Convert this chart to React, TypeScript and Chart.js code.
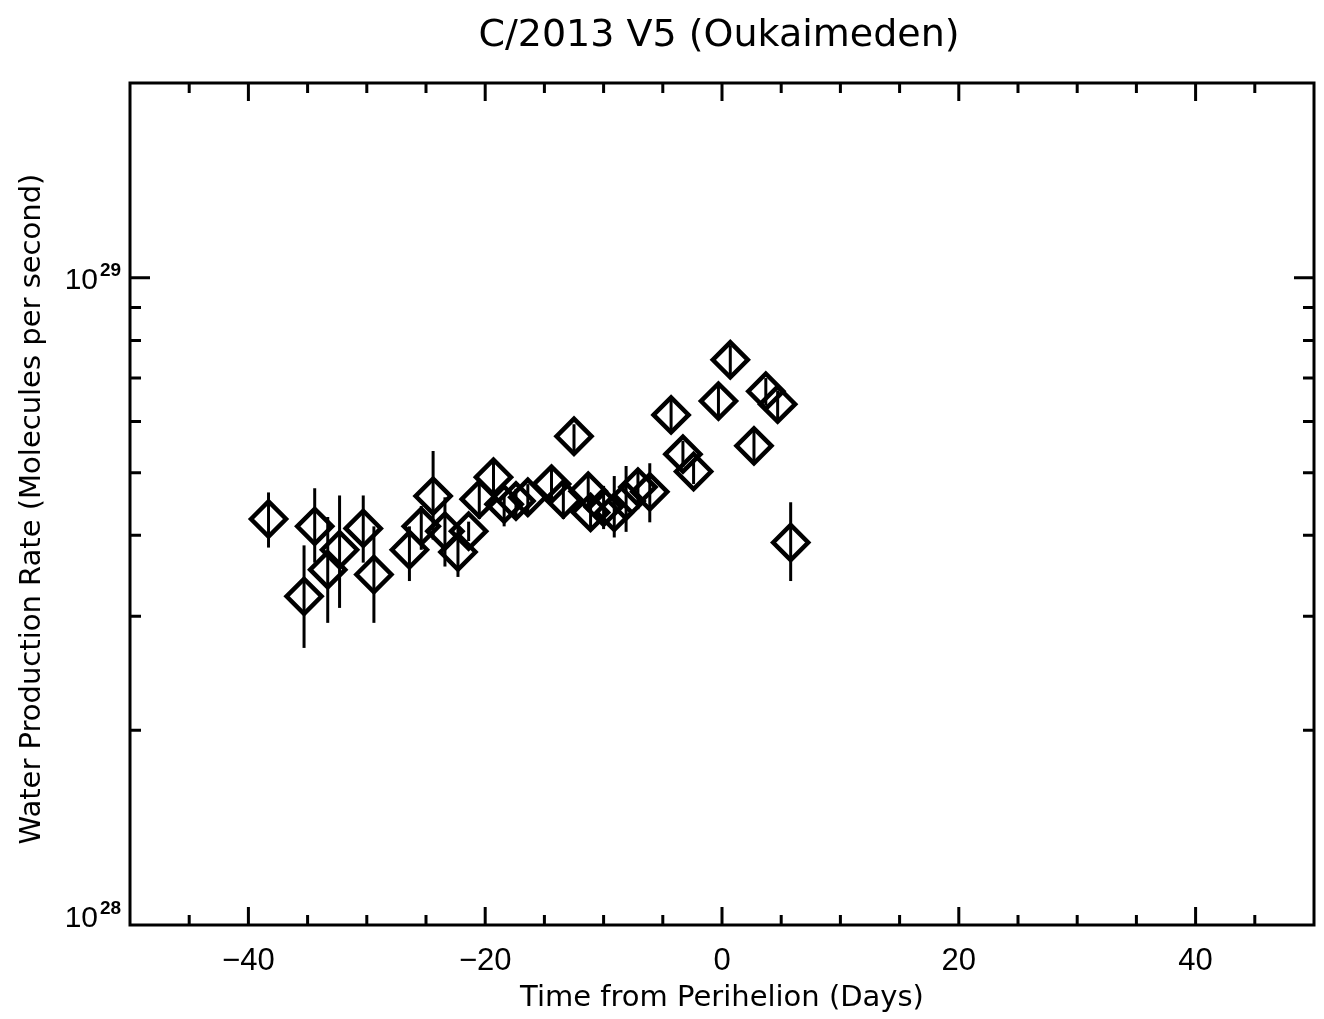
import React, { useEffect, useRef } from 'react';
import { Chart, registerables } from 'chart.js';

Chart.register(...registerables);

// ---- data (days from perihelion, production rate in units of 1e28 molecules/s) ----
const days = [-38.3, -35.3, -34.4, -33.3, -32.3, -30.3, -29.4, -26.4, -25.4, -24.4, -23.4, -22.3, -21.4, -20.5, -19.3, -18.4, -17.4, -16.4, -14.4, -13.4, -12.5, -11.3, -11.1, -10.0, -9.1, -8.1, -7.1, -6.1, -4.3, -3.3, -2.4, -0.3, 0.7, 2.7, 3.7, 4.7, 5.8];
const rate = [4.24, 3.22, 4.13, 3.54, 3.80, 4.10, 3.48, 3.80, 4.13, 4.60, 4.06, 3.77, 4.06, 4.55, 4.92, 4.47, 4.52, 4.58, 4.80, 4.55, 5.69, 4.68, 4.34, 4.42, 4.34, 4.52, 4.75, 4.67, 6.14, 5.34, 5.02, 6.45, 7.47, 5.50, 6.68, 6.38, 3.90];
const rateHigh = [4.66, 3.86, 4.73, 4.27, 4.61, 4.61, 4.13, 4.13, 4.44, 5.40, 4.58, 4.13, 4.20, 4.89, 5.21, 4.61, 4.72, 4.80, 5.06, 4.80, 5.94, 4.97, 4.62, 4.77, 4.94, 5.12, 5.06, 5.17, 6.48, 5.60, 5.25, 6.80, 7.85, 5.80, 7.00, 6.70, 4.50];
const rateLow = [3.83, 2.68, 3.63, 2.93, 3.09, 3.63, 2.93, 3.40, 3.80, 3.94, 3.58, 3.45, 3.92, 4.24, 4.60, 4.13, 4.24, 4.28, 4.47, 4.24, 5.34, 4.39, 4.07, 4.09, 3.97, 4.05, 4.39, 4.19, 5.80, 5.10, 4.80, 6.10, 7.10, 5.20, 6.35, 6.05, 3.40];
const UNIT = 1e28;

// ---- axes ----
const xMin = -50;
const xMax = 50;
const yMin = 1e28;
const yMax = 2e29;
const xTickValues = [-45, -40, -35, -30, -25, -20, -15, -10, -5, 0, 5, 10, 15, 20, 25, 30, 35, 40, 45];
const xMajorValues = [-40, -20, 0, 20, 40];
const xTickLabels = ['\u221240', '\u221220', '0', '20', '40'];
const yTickValues = [2e28, 3e28, 4e28, 5e28, 6e28, 7e28, 8e28, 9e28, 1e29];
const yMajorValues = [1e28, 1e29];
const yMajorExponents = ['28', '29'];

const titleText = 'C/2013 V5 (Oukaimeden)';
const xTitle = 'Time from Perihelion (Days)';
const yTitle = 'Water Production Rate (Molecules per second)';

const TITLE_FONT = '"DejaVu Sans", sans-serif';
const TICK_FONT = '"Liberation Sans", Arial, sans-serif';

const framePlugin = {
  id: 'idlFrame',
  beforeDatasetsDraw(chart: any) {
    const ctx = chart.ctx as CanvasRenderingContext2D;
    const xs = chart.scales.x;
    const ys = chart.scales.y;
    ctx.save();
    ctx.strokeStyle = '#000';
    ctx.lineWidth = 3;
    ctx.lineCap = 'butt';
    for (let i = 0; i < days.length; i++) {
      const px = xs.getPixelForValue(days[i]);
      const y1 = ys.getPixelForValue(rateHigh[i] * UNIT);
      const y2 = ys.getPixelForValue(rateLow[i] * UNIT);
      ctx.beginPath();
      ctx.moveTo(px, y1);
      ctx.lineTo(px, y2);
      ctx.stroke();
    }
    ctx.restore();
  },
  afterDraw(chart: any) {
    const ctx = chart.ctx as CanvasRenderingContext2D;
    const { left, right, top, bottom } = chart.chartArea;
    const xs = chart.scales.x;
    const ys = chart.scales.y;
    ctx.save();
    ctx.strokeStyle = '#000';
    ctx.fillStyle = '#000';
    ctx.lineWidth = 3;
    ctx.strokeRect(left, top, right - left, bottom - top);

    // x ticks (inward, top & bottom)
    for (const v of xTickValues) {
      const px = xs.getPixelForValue(v);
      const len = xMajorValues.includes(v) ? 18 : 10;
      ctx.beginPath();
      ctx.moveTo(px, bottom);
      ctx.lineTo(px, bottom - len);
      ctx.moveTo(px, top);
      ctx.lineTo(px, top + len);
      ctx.stroke();
    }
    // y ticks (inward, left & right)
    for (const v of yTickValues) {
      const py = ys.getPixelForValue(v);
      const len = yMajorValues.includes(v) ? 20 : 11;
      ctx.beginPath();
      ctx.moveTo(left, py);
      ctx.lineTo(left + len, py);
      ctx.moveTo(right, py);
      ctx.lineTo(right - len, py);
      ctx.stroke();
    }

    // x tick labels
    ctx.font = `31px ${TICK_FONT}`;
    ctx.textAlign = 'center';
    ctx.textBaseline = 'alphabetic';
    xMajorValues.forEach((v, i) => {
      const px = xs.getPixelForValue(v);
      ctx.fillText(xTickLabels[i], px, bottom + 45);
    });

    // y tick labels 10^n
    yMajorValues.forEach((v, i) => {
      const py = ys.getPixelForValue(v);
      const base = Math.min(py + 11, bottom + 2);
      ctx.font = `30px ${TICK_FONT}`;
      ctx.textAlign = 'right';
      ctx.fillText('10', left - 32, base);
      ctx.font = `bold 19px ${TICK_FONT}`;
      ctx.textAlign = 'left';
      ctx.fillText(yMajorExponents[i], left - 30, base - 13);
    });

    // titles
    ctx.font = `38px ${TITLE_FONT}`;
    ctx.textAlign = 'center';
    ctx.fillText(titleText, (left + right) / 2 - 3, 46);

    ctx.font = `29px ${TITLE_FONT}`;
    ctx.fillText(xTitle, (left + right) / 2, bottom + 81);

    ctx.translate(40, (top + bottom) / 2 + 5);
    ctx.rotate(-Math.PI / 2);
    ctx.fillText(yTitle, 0, 0);
    ctx.restore();
  },
};

export default function App() {
  const canvasRef = useRef<HTMLCanvasElement | null>(null);

  useEffect(() => {
    document.body.style.margin = '0';
    const canvas = canvasRef.current;
    if (!canvas) return;
    const chart = new Chart(canvas, {
      type: 'scatter',
      data: {
        datasets: [
          {
            label: 'Water production',
            data: days.map((d, i) => ({ x: d, y: rate[i] * UNIT })),
            pointStyle: 'rectRot',
            pointRadius: 17.5,
            pointHoverRadius: 17.5,
            borderColor: '#000',
            backgroundColor: 'rgba(0,0,0,0)',
            borderWidth: 4.5,
          },
        ],
      },
      options: {
        responsive: false,
        animation: false,
        events: [],
        layout: { autoPadding: false, padding: { left: 130, right: 10, top: 83, bottom: 94 } },
        scales: {
          x: { type: 'linear', min: xMin, max: xMax, display: false },
          y: { type: 'logarithmic', min: yMin, max: yMax, display: false },
        },
        plugins: {
          legend: { display: false },
          tooltip: { enabled: false },
          title: { display: false },
        },
      },
      plugins: [framePlugin],
    });
    return () => chart.destroy();
  }, []);

  return (
    <div style={{ position: 'absolute', left: 0, top: 0, width: 1324, height: 1019, background: '#fff' }}>
      <canvas ref={canvasRef} width={1324} height={1019} style={{ display: 'block' }} />
    </div>
  );
}
